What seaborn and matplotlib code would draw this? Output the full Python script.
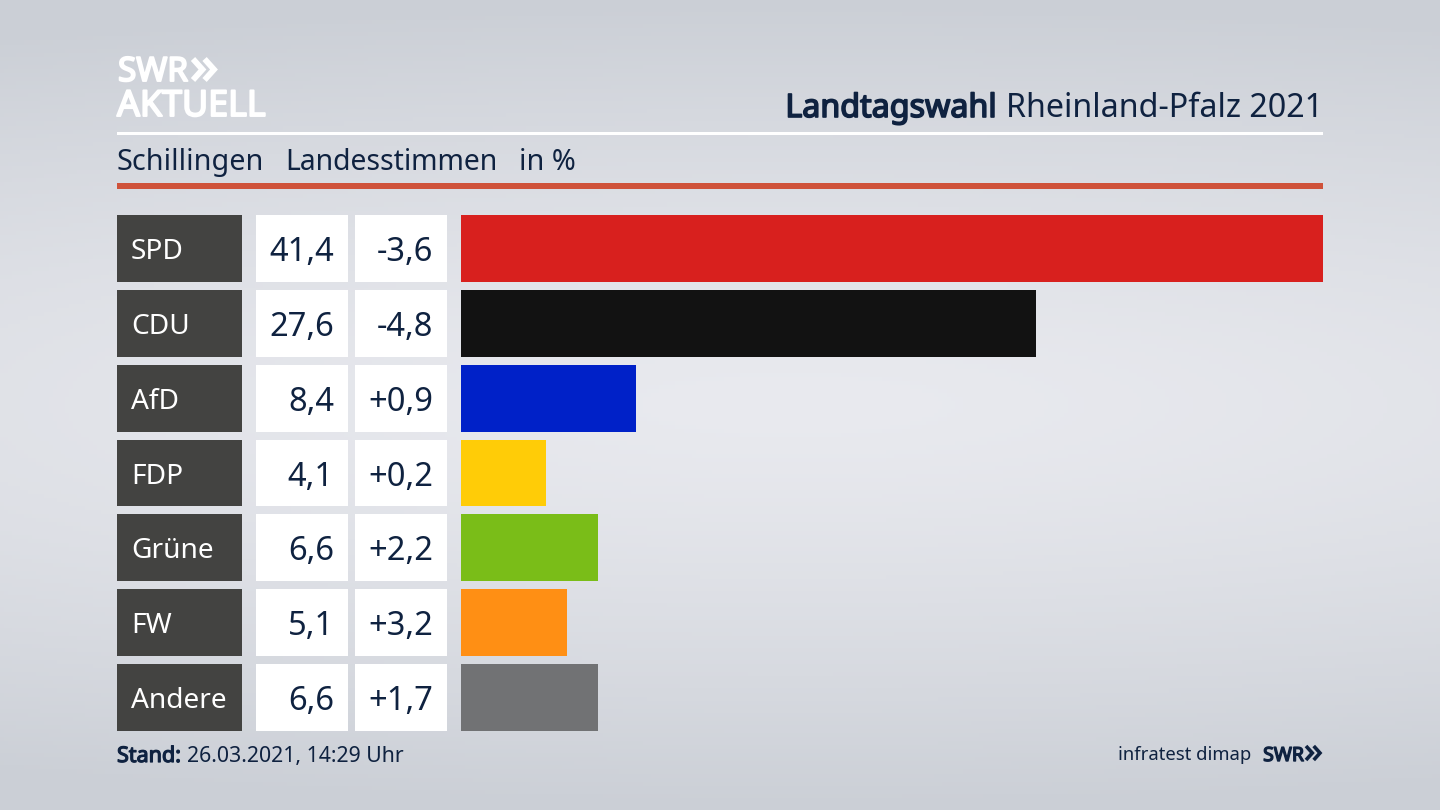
"""SWR Landtagswahl bar chart: Schillingen, Landesstimmen in %."""
import matplotlib.patheffects as pe
import matplotlib.pyplot as plt
import numpy as np
import pandas as pd
import seaborn as sns

W, H = 1440, 810

parties = ["SPD", "CDU", "AfD", "FDP", "Grüne", "FW", "Andere"]
shares = [41.4, 27.6, 8.4, 4.1, 6.6, 5.1, 6.6]
changes = ["-3,6", "-4,8", "+0,9", "+0,2", "+2,2", "+3,2", "+1,7"]
colors = ["#d8201e", "#121212", "#0021c8", "#ffcc07", "#7abd18", "#ff8f14", "#717274"]

NAVY = "#0f2240"
FONT = "Noto Sans"
BAR_WIDTH = 0.892


def px_axes(fig, left, top, right, bottom):
    """Axes placed with pixel edges, measured from the top left of the picture."""
    return fig.add_axes([left / W, 1 - bottom / H, (right - left) / W, (bottom - top) / H])


def fig_text(fig, x, y, s, bold=0, **kw):
    kw.setdefault("family", FONT)
    kw.setdefault("color", NAVY)
    kw.setdefault("va", "baseline")
    t = fig.text(x / W, 1 - y / H, s, **kw)
    # the installed Noto Sans has no bold face, so thicken it with a stroke
    if bold:
        t.set_path_effects([pe.withStroke(linewidth=bold, foreground=kw["color"])])
    return t


def fig_rule(fig, left, right, top, bottom, color):
    fig.patches.append(plt.Rectangle((left / W, 1 - bottom / H), (right - left) / W,
                                     (bottom - top) / H, transform=fig.transFigure,
                                     color=color, lw=0))


def chevrons(fig, left, top, size, lw, color):
    """The two arrow heads of the SWR logo."""
    for off in (0, size * 0.55):
        xs = np.array([left + off, left + off + size * 0.45, left + off])
        ys = np.array([top, top + size / 2, top + size])
        fig.add_artist(plt.Line2D(xs / W, 1 - ys / H, color=color, lw=lw,
                                  solid_joinstyle="miter", solid_capstyle="butt"))


def draw_background(fig):
    ax = fig.add_axes([0, 0, 1, 1], zorder=-1)
    yy, xx = np.mgrid[0:1:200j, 0:1:356j]
    # light band through the middle, greyer towards top and bottom
    dist = np.sqrt(((yy - 0.5) / 0.5) ** 2 + (0.35 * (xx - 0.55) / 0.5) ** 2)
    light = np.array([233, 234, 239]) / 255
    dark = np.array([203, 207, 214]) / 255
    t = np.clip(dist, 0, 1)[..., None] ** 1.3
    ax.imshow(light * (1 - t) + dark * t, aspect="auto", extent=(0, 1, 0, 1))
    ax.axis("off")


def draw_column(fig, left, right, labels, face, text_color, text_x, ha, size):
    ax = px_axes(fig, left, 215, right, 731)
    ax.set_xlim(left, right)
    ax.set_ylim(len(labels) - 1 + BAR_WIDTH / 2, -BAR_WIDTH / 2)
    for i, label in enumerate(labels):
        ax.axhspan(i - BAR_WIDTH / 2, i + BAR_WIDTH / 2, color=face, lw=0)
        ax.text(text_x, i, label, family=FONT, fontsize=size, color=text_color,
                ha=ha, va="center_baseline")
    ax.axis("off")


def main():
    sns.set_theme(style="white")
    plt.rcParams["font.family"] = [FONT, "DejaVu Sans"]
    fig = plt.figure(figsize=(W / 100, H / 100), dpi=100)
    draw_background(fig)

    # header
    fig_text(fig, 118, 81, "SWR", bold=1.4, fontsize=24, color="white")
    chevrons(fig, 193, 59, 21, 4.2, "white")
    fig_text(fig, 117, 116, "AKTUELL", bold=1.4, fontsize=25.8, color="white")
    title = fig_text(fig, 1323, 117, "Rheinland-Pfalz 2021", fontsize=23.2, ha="right")
    fig.canvas.draw()
    title_left = title.get_window_extent().x0
    fig_text(fig, title_left - 9, 117, "Landtagswahl", bold=1.2, fontsize=23.2, ha="right")
    fig_rule(fig, 117, 1323, 132, 135, "white")
    fig_text(fig, 117, 170, "Schillingen", fontsize=20.7)
    fig_text(fig, 285, 170, "Landesstimmen", fontsize=20.4)
    fig_text(fig, 519, 170, "in %", fontsize=20.7)
    fig_rule(fig, 117, 1323, 183, 189, "#cf523a")

    # table columns
    draw_column(fig, 117, 241.5, parties, "#434341", "white", 131, "left", 20.2)
    values = [f"{v:.1f}".replace(".", ",") for v in shares]
    draw_column(fig, 256, 348, values, "white", NAVY, 334, "right", 23.5)
    draw_column(fig, 355, 447, changes, "white", NAVY, 433, "right", 23.5)

    # bars
    df = pd.DataFrame({"party": parties, "share": shares})
    ax = px_axes(fig, 461, 215, 1323, 731)
    sns.barplot(data=df, x="share", y="party", hue="party", palette=colors, order=parties,
                width=BAR_WIDTH, saturation=1, dodge=False, legend=False, linewidth=0, ax=ax)
    ax.set_xlim(0, max(shares))
    ax.set_ylim(len(parties) - 1 + BAR_WIDTH / 2, -BAR_WIDTH / 2)
    ax.axis("off")

    # footer
    fig_text(fig, 117, 762, "Stand:", bold=0.9, fontsize=15.5)
    fig_text(fig, 187, 762, "26.03.2021, 14:29 Uhr", fontsize=15.3)
    fig_text(fig, 1251, 760, "infratest dimap", fontsize=13.3, ha="right")
    fig_text(fig, 1304, 761, "SWR", bold=1.0, fontsize=14, ha="right")
    chevrons(fig, 1306, 746, 14, 2.6, NAVY)

    fig.savefig("out.png", dpi=100)


if __name__ == "__main__":
    main()
